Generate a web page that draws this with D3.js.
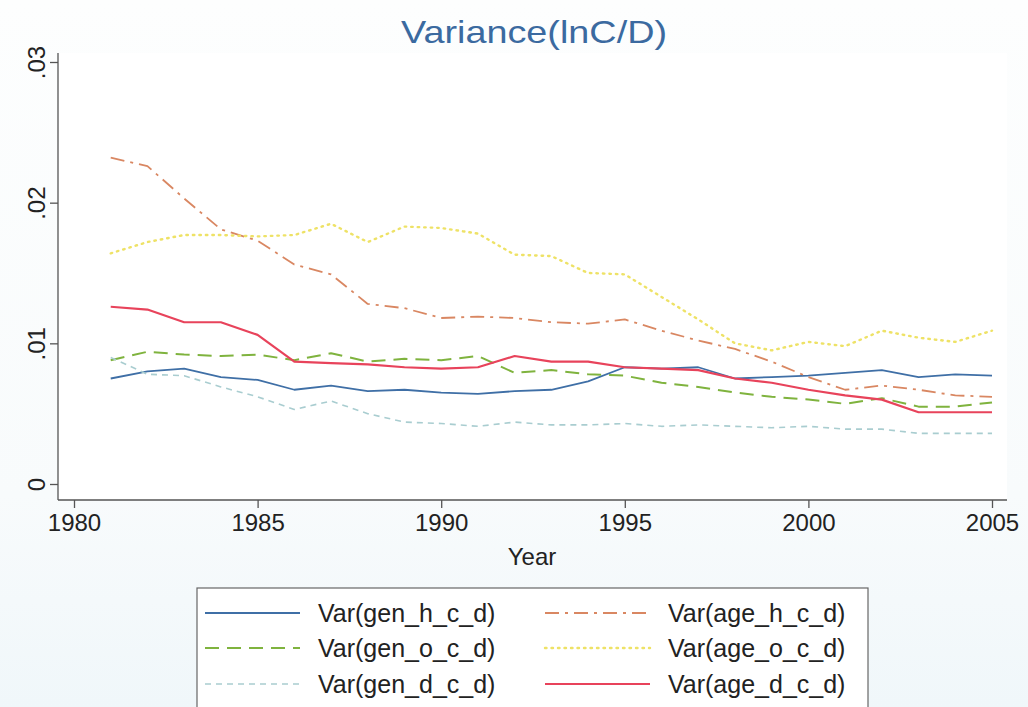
<!DOCTYPE html>
<html>
<head>
<meta charset="utf-8">
<script src="https://cdn.jsdelivr.net/npm/d3@7"></script>
<style>
  html, body { margin: 0; padding: 0; background: #f4f9fb; }
  svg { display: block; font-family: "Liberation Sans", Arial, sans-serif; }
</style>
</head>
<body>
<svg id="chart" width="1028" height="707"></svg>
<script>
const years = d3.range(1981, 2006);
const xTicks = [1980, 1985, 1990, 1995, 2000, 2005];
const yTicks = [0, 0.01, 0.02, 0.03];
const yTickLabels = ["0", ".01", ".02", ".03"];

const genH = [0.0075, 0.0080, 0.0082, 0.0076, 0.0074, 0.0067, 0.0070, 0.0066, 0.0067, 0.0065, 0.0064, 0.0066, 0.0067, 0.0073, 0.0083, 0.0082, 0.0083, 0.0075, 0.0076, 0.0077, 0.0079, 0.0081, 0.0076, 0.0078, 0.0077];
const genO = [0.0088, 0.0094, 0.0092, 0.0091, 0.0092, 0.0088, 0.0093, 0.0087, 0.0089, 0.0088, 0.0091, 0.0079, 0.0081, 0.0078, 0.0077, 0.0072, 0.0069, 0.0065, 0.0062, 0.0060, 0.0057, 0.0061, 0.0055, 0.0055, 0.0058];
const genD = [0.0090, 0.0078, 0.0077, 0.0069, 0.0062, 0.0053, 0.0059, 0.0050, 0.0044, 0.0043, 0.0041, 0.0044, 0.0042, 0.0042, 0.0043, 0.0041, 0.0042, 0.0041, 0.0040, 0.0041, 0.0039, 0.0039, 0.0036, 0.0036, 0.0036];
const ageH = [0.0232, 0.0226, 0.0203, 0.0181, 0.0173, 0.0156, 0.0149, 0.0128, 0.0125, 0.0118, 0.0119, 0.0118, 0.0115, 0.0114, 0.0117, 0.0109, 0.0102, 0.0096, 0.0087, 0.0076, 0.0067, 0.0070, 0.0067, 0.0063, 0.0062];
const ageO = [0.0164, 0.0172, 0.0177, 0.0177, 0.0176, 0.0177, 0.0185, 0.0172, 0.0183, 0.0182, 0.0178, 0.0163, 0.0162, 0.0150, 0.0149, 0.0133, 0.0117, 0.0100, 0.0095, 0.0101, 0.0098, 0.0109, 0.0104, 0.0101, 0.0109];
const ageD = [0.0126, 0.0124, 0.0115, 0.0115, 0.0106, 0.0087, 0.0086, 0.0085, 0.0083, 0.0082, 0.0083, 0.0091, 0.0087, 0.0087, 0.0083, 0.0082, 0.0081, 0.0075, 0.0072, 0.0067, 0.0063, 0.0060, 0.0051, 0.0051, 0.0051];

const seriesNames = ["Var(gen_h_c_d)", "Var(gen_o_c_d)", "Var(gen_d_c_d)", "Var(age_h_c_d)", "Var(age_o_c_d)", "Var(age_d_c_d)"];

const series = [
  { name: seriesNames[0], values: genH, color: "#3f6fa6", width: 1.8, dash: null },
  { name: seriesNames[1], values: genO, color: "#7fb33e", width: 2, dash: "14,8" },
  { name: seriesNames[2], values: genD, color: "#a9cdd0", width: 1.6, dash: "6,5" },
  { name: seriesNames[3], values: ageH, color: "#d98762", width: 1.8, dash: "14,6,3,6" },
  { name: seriesNames[4], values: ageO, color: "#eee266", width: 2.4, dash: "1.5,5" },
  { name: seriesNames[5], values: ageD, color: "#e8435b", width: 2.2, dash: null }
];

const svg = d3.select("#chart");
const plot = { left: 58, right: 1007, top: 53, bottom: 500 };

const defs = svg.append("defs");
const grad = defs.append("linearGradient").attr("id", "bg").attr("x1", 0).attr("y1", 0).attr("x2", 0).attr("y2", 1);
grad.append("stop").attr("offset", "0%").attr("stop-color", "#fdfefe");
grad.append("stop").attr("offset", "70%").attr("stop-color", "#f8fbfc");
grad.append("stop").attr("offset", "100%").attr("stop-color", "#f0f7fa");
svg.append("rect").attr("x", 0).attr("y", 0).attr("width", 1028).attr("height", 707).attr("fill", "url(#bg)");
svg.append("rect").attr("x", plot.left).attr("y", plot.top)
  .attr("width", plot.right - plot.left).attr("height", plot.bottom - plot.top).attr("fill", "#ffffff");

const x = d3.scaleLinear().domain([1980, 2005]).range([74, 992]);
const y = d3.scaleLinear().domain([0, 0.03]).range([484, 62]);

// Title
svg.append("text").attr("x", 534).attr("y", 43).attr("text-anchor", "middle")
  .attr("font-size", 32).attr("fill", "#3b6aa0").attr("textLength", 266).attr("lengthAdjust", "spacingAndGlyphs")
  .text("Variance(lnC/D)");

// Y axis
const yAxis = d3.axisLeft(y).tickValues(yTicks).tickSize(8).tickFormat((d, i) => yTickLabels[i]);
const gy = svg.append("g").attr("transform", `translate(${plot.left},0)`).call(yAxis);
gy.select(".domain").attr("d", `M0,${plot.top}V${plot.bottom}`).attr("stroke", "#555").attr("stroke-width", 1.3);
gy.selectAll(".tick line").attr("stroke", "#555").attr("stroke-width", 1.3);
gy.selectAll(".tick text")
  .attr("font-size", 24).attr("fill", "#222").attr("font-family", "Liberation Sans, Arial, sans-serif")
  .attr("x", 0).attr("dy", 0)
  .attr("text-anchor", "middle")
  .attr("transform", "translate(-13,0) rotate(-90)");

// X axis
const xAxis = d3.axisBottom(x).tickValues(xTicks).tickSize(8).tickFormat(d3.format("d"));
const gx = svg.append("g").attr("transform", `translate(0,${plot.bottom})`).call(xAxis);
gx.select(".domain").attr("d", `M${plot.left},0H${plot.right}`).attr("stroke", "#555").attr("stroke-width", 1.3);
gx.selectAll(".tick line").attr("stroke", "#555").attr("stroke-width", 1.3);
gx.selectAll(".tick text").attr("font-size", 24).attr("fill", "#222")
  .attr("font-family", "Liberation Sans, Arial, sans-serif").attr("y", 14).attr("dy", "0.71em");

svg.append("text").attr("x", 532).attr("y", 565).attr("text-anchor", "middle")
  .attr("font-size", 24).attr("fill", "#222").text("Year");

// Lines
const line = d3.line().x((d, i) => x(years[i])).y(d => y(d));
svg.append("g").selectAll("path").data(series).join("path")
  .attr("d", d => line(d.values))
  .attr("fill", "none")
  .attr("stroke", d => d.color)
  .attr("stroke-width", d => d.width)
  .attr("stroke-dasharray", d => d.dash)
  .attr("stroke-linecap", d => d.name === seriesNames[4] ? "round" : "butt")
  .attr("stroke-linejoin", "round");

// Legend
const lg = svg.append("g");
lg.append("rect").attr("x", 197).attr("y", 588).attr("width", 671).attr("height", 130)
  .attr("fill", "#ffffff").attr("stroke", "#666").attr("stroke-width", 1.2);
const rowY = [613, 648, 684];
series.forEach((s, i) => {
  const col = i < 3 ? 0 : 1;
  const row = i % 3;
  const x0 = col === 0 ? 205 : 545;
  const x1 = col === 0 ? 300 : 650;
  const tx = col === 0 ? 318 : 668;
  lg.append("line").attr("x1", x0).attr("x2", x1).attr("y1", rowY[row]).attr("y2", rowY[row])
    .attr("stroke", s.color).attr("stroke-width", s.width).attr("stroke-dasharray", s.dash)
    .attr("stroke-linecap", i === 4 ? "round" : "butt");
  lg.append("text").attr("x", tx).attr("y", rowY[row]).attr("dy", "0.36em")
    .attr("font-size", 25).attr("fill", "#222").text(s.name);
});
</script>
</body>
</html>
